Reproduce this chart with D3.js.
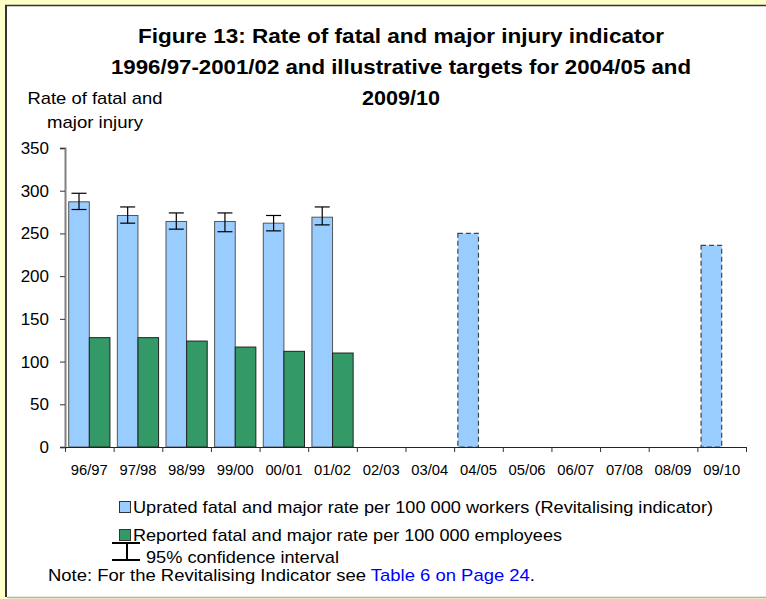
<!DOCTYPE html>
<html>
<head>
<meta charset="utf-8">
<script src="https://cdn.jsdelivr.net/npm/d3@7"></script>
<style>
  body { margin: 0; background: #ffffc8; }
  svg { display: block; font-family: Arial, "Liberation Sans", sans-serif; }
</style>
</head>
<body>
<div id="chart"></div>
<script>
// Figure 13 - fatal and major injury rate, with 95% CI and illustrative targets

const categories = ["96/97", "97/98", "98/99", "99/00", "00/01", "01/02", "02/03",
  "03/04", "04/05", "05/06", "06/07", "07/08", "08/09", "09/10"];

const actualYears = ["96/97", "97/98", "98/99", "99/00", "00/01", "01/02"];
const upratedRate = [287, 271, 264, 264, 262, 269];
const ciLower = [278, 262, 255, 252, 253, 260];
const ciUpper = [297, 281, 274, 274, 271, 281];
const reportedRate = [128, 128, 124, 117, 112, 110];

const targetYears = ["04/05", "09/10"];
const targetRate = [250, 236];

const yTicks = [0, 50, 100, 150, 200, 250, 300, 350];

const titleLines = [
  "Figure 13: Rate of fatal and major injury indicator",
  "1996/97-2001/02 and illustrative targets for 2004/05 and",
  "2009/10"
];
const yTitleLines = ["Rate of fatal and", "major injury"];
const legendLabels = [
  "Uprated fatal and major rate per 100 000 workers (Revitalising indicator)",
  "Reported fatal and major rate per 100 000 employees",
  "95% confidence interval"
];

const BLUE = "#99ccff", GREEN = "#339966";

function renderChart() {
  const width = 766, height = 599;
  const svg = d3.select("#chart").append("svg")
    .attr("width", width).attr("height", height);

  // yellow frame with white panel
  svg.append("rect").attr("width", width).attr("height", height).attr("fill", "#ffffc8");
  svg.append("rect").attr("x", 6).attr("y", 6).attr("width", width - 6).attr("height", 591)
    .attr("fill", "#fff");
  svg.append("line").attr("x1", 6).attr("x2", 6).attr("y1", 5).attr("y2", 597)
    .attr("stroke", "#333").attr("stroke-width", 2);
  svg.append("line").attr("x1", 5).attr("x2", width).attr("y1", 5.5).attr("y2", 5.5)
    .attr("stroke", "#333").attr("stroke-width", 1.5);
  svg.append("line").attr("x1", 7).attr("x2", width).attr("y1", 597.5).attr("y2", 597.5)
    .attr("stroke", "#b0b0b0").attr("stroke-width", 1.5);

  const x = d3.scaleBand().domain(categories).range([65, 746]);
  const sub = d3.scaleBand().domain(["uprated", "reported"])
    .range([0, x.bandwidth()]).paddingOuter(0.18);
  const y = d3.scaleLinear().domain([0, 350]).range([447, 148]);

  // the source fonts are tall and narrow, so text is squeezed to its measured width
  const fitText = (sel, len) => sel.attr("textLength", len).attr("lengthAdjust", "spacingAndGlyphs");

  // title
  const titleW = [526, 580, 78];
  titleLines.forEach((t, i) => {
    svg.append("text").attr("x", 401).attr("y", 43 + i * 31)
      .attr("text-anchor", "middle").style("font-size", "21px").style("font-weight", "bold")
      .text(t).call(fitText, titleW[i]);
  });

  // y title
  const yTitleW = [135, 96];
  yTitleLines.forEach((t, i) => {
    svg.append("text").attr("x", 95).attr("y", 104 + i * 24)
      .attr("text-anchor", "middle").style("font-size", "17px")
      .text(t).call(fitText, yTitleW[i]);
  });

  // y axis
  const gy = svg.append("g").attr("transform", "translate(65,0)")
    .call(d3.axisLeft(y).tickValues(yTicks).tickSize(5).tickPadding(11));
  gy.select(".domain").attr("stroke", "#808080").attr("stroke-width", 2);
  gy.selectAll(".tick line").attr("stroke", "#333");
  gy.selectAll("text").style("font-size", "17px").style("font-family", "Arial, 'Liberation Sans', sans-serif")
    .attr("fill", "#000");

  // bars
  const actual = actualYears.map((c, i) => ({
    cat: c, up: upratedRate[i], rep: reportedRate[i], lo: ciLower[i], hi: ciUpper[i]
  }));

  svg.append("g").selectAll("rect").data(actual).join("rect")
    .attr("x", d => x(d.cat) + sub("uprated"))
    .attr("y", d => y(d.up))
    .attr("width", sub.bandwidth())
    .attr("height", d => y(0) - y(d.up))
    .attr("fill", BLUE).attr("stroke", "#555").attr("stroke-width", 1);

  svg.append("g").selectAll("rect").data(actual).join("rect")
    .attr("x", d => x(d.cat) + sub("reported"))
    .attr("y", d => y(d.rep))
    .attr("width", sub.bandwidth())
    .attr("height", d => y(0) - y(d.rep))
    .attr("fill", GREEN).attr("stroke", "#222").attr("stroke-width", 1);

  // target bars (dashed)
  svg.append("g").selectAll("rect").data(targetYears.map((c, i) => ({ cat: c, v: targetRate[i] })))
    .join("rect")
    .attr("x", d => x(d.cat) + sub("uprated"))
    .attr("y", d => y(d.v))
    .attr("width", sub.bandwidth())
    .attr("height", d => y(0) - y(d.v))
    .attr("fill", BLUE).attr("stroke", "#444").attr("stroke-width", 1.2)
    .attr("stroke-dasharray", "5,3");

  // error bars
  const eb = svg.append("g").attr("stroke", "#000").attr("stroke-width", 1.2);
  const cx = d => x(d.cat) + sub("uprated") + sub.bandwidth() / 2;
  eb.selectAll(".v").data(actual).join("line")
    .attr("x1", cx).attr("x2", cx).attr("y1", d => y(d.lo)).attr("y2", d => y(d.hi));
  eb.selectAll(".t").data(actual).join("line")
    .attr("x1", d => cx(d) - 7.5).attr("x2", d => cx(d) + 7.5)
    .attr("y1", d => y(d.hi)).attr("y2", d => y(d.hi));
  eb.selectAll(".b").data(actual).join("line")
    .attr("x1", d => cx(d) - 7.5).attr("x2", d => cx(d) + 7.5)
    .attr("y1", d => y(d.lo)).attr("y2", d => y(d.lo));

  // x axis: ticks at band boundaries
  const edges = d3.scaleLinear().domain([0, categories.length]).range(x.range());
  const gx = svg.append("g").attr("transform", `translate(0,${y(0)})`)
    .call(d3.axisBottom(edges).tickValues(d3.range(categories.length + 1)).tickSize(5).tickFormat(""));
  gx.select(".domain").attr("stroke", "#222");
  gx.selectAll(".tick line").attr("stroke", "#333");

  svg.append("g").selectAll("text").data(categories).join("text")
    .attr("x", d => x(d) + x.bandwidth() / 2)
    .attr("y", 475)
    .attr("text-anchor", "middle")
    .style("font-size", "14px")
    .text(d => d)
    .call(fitText, 37);

  // legend
  svg.append("rect").attr("x", 119.5).attr("y", 501.5).attr("width", 11).attr("height", 11)
    .attr("fill", BLUE).attr("stroke", "#333");
  svg.append("text").attr("x", 133).attr("y", 513).style("font-size", "17px")
    .text(legendLabels[0]).call(fitText, 580);

  svg.append("rect").attr("x", 119.5).attr("y", 529.5).attr("width", 11).attr("height", 11)
    .attr("fill", GREEN).attr("stroke", "#333");
  svg.append("text").attr("x", 133).attr("y", 541).style("font-size", "17px")
    .text(legendLabels[1]).call(fitText, 429);

  const lg = svg.append("g").attr("stroke", "#000").attr("stroke-width", 2);
  lg.append("line").attr("x1", 112).attr("x2", 140).attr("y1", 543).attr("y2", 543);
  lg.append("line").attr("x1", 127).attr("x2", 127).attr("y1", 543).attr("y2", 560);
  lg.append("line").attr("x1", 112).attr("x2", 140).attr("y1", 560).attr("y2", 560);
  svg.append("text").attr("x", 146).attr("y", 563).style("font-size", "17px")
    .text(legendLabels[2]).call(fitText, 193);

  // note
  const note = svg.append("text").attr("x", 48).attr("y", 581).style("font-size", "17px");
  note.append("tspan").text("Note: For the Revitalising Indicator see ");
  note.append("tspan").attr("fill", "#0000ff").text("Table 6 on Page 24");
  note.append("tspan").text(".");
  note.call(fitText, 487);
}

renderChart();
</script>
</body>
</html>
